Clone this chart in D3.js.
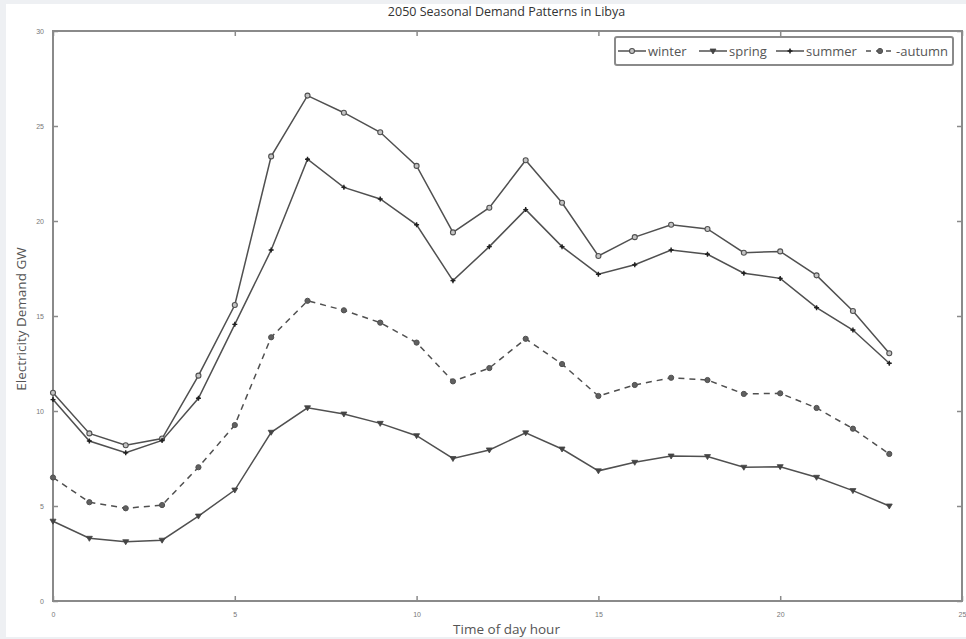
<!DOCTYPE html>
<html>
<head>
<meta charset="utf-8">
<script src="https://cdn.jsdelivr.net/npm/d3@7"></script>
<style>
  body { margin: 0; background: #eef0f3; }
  svg { display: block; font-family: "Open Sans", "DejaVu Sans", sans-serif; }
</style>
</head>
<body>
<svg id="chart"></svg>
<script>
// hours of the day
const hours = d3.range(0, 24);

// demand per season, GW
const winter = [10.96, 8.82, 8.2, 8.55, 11.86, 15.58, 23.4, 26.6, 25.7, 24.67, 22.9, 19.4,
                20.7, 23.2, 20.96, 18.16, 19.15, 19.8, 19.58, 18.33, 18.4, 17.14, 15.26, 13.04];
const spring = [4.2, 3.3, 3.12, 3.2, 4.47, 5.84, 8.88, 10.17, 9.84, 9.35, 8.7, 7.5,
                7.95, 8.85, 8.0, 6.85, 7.3, 7.63, 7.6, 7.04, 7.07, 6.51, 5.81, 5.0];
const summer = [10.6, 8.42, 7.8, 8.45, 10.67, 14.56, 18.47, 23.25, 21.77, 21.16, 19.8, 16.86,
                18.65, 20.6, 18.65, 17.2, 17.7, 18.47, 18.25, 17.25, 16.98, 15.44, 14.26, 12.51];
const autumn = [6.5, 5.2, 4.88, 5.05, 7.04, 9.26, 13.88, 15.8, 15.3, 14.65, 13.6, 11.56,
                12.26, 13.8, 12.47, 10.79, 11.37, 11.75, 11.63, 10.9, 10.93, 10.16, 9.07, 7.74];

const xTicks = [0, 5, 10, 15, 20, 25];
const yTicks = [0, 5, 10, 15, 20, 25, 30];

const series = [
  {name: 'winter', values: winter, marker: 'circle', dash: null},
  {name: 'spring', values: spring, marker: 'triangle', dash: null},
  {name: 'summer', values: summer, marker: 'plus', dash: null},
  {name: 'autumn', values: autumn, marker: 'dot', dash: '6,5'}
];

const W = 966, H = 639;
const margin = {top: 31, right: 4, bottom: 38, left: 53};
const width = W - margin.left - margin.right,
      height = H - margin.top - margin.bottom;

const ink = '#505050';
const axisCol = '#8a8a8a';

const svg = d3.select('#chart').attr('width', W).attr('height', H);

// white panel inside the grey frame
svg.append('rect')
  .attr('x', 6).attr('y', 4)
  .attr('width', W - 6).attr('height', 633)
  .attr('fill', '#ffffff');

const g = svg.append('g')
  .attr('transform', `translate(${margin.left}, ${margin.top})`);

const x = d3.scaleLinear().domain([0, 25]).range([0, width]);
const y = d3.scaleLinear().domain([0, 30]).range([height, 0]);

// axes, ticks inside, mirrored on top/right
const tickLen = 5;
g.append('g')
  .attr('transform', `translate(0, ${height})`)
  .call(d3.axisBottom(x).tickValues(xTicks).tickSize(-tickLen).tickPadding(tickLen + 6))
  .call(a => a.select('.domain').remove());
g.append('g')
  .call(d3.axisLeft(y).tickValues(yTicks).tickSize(-tickLen).tickPadding(tickLen + 4))
  .call(a => a.select('.domain').remove());
g.append('g')
  .call(d3.axisTop(x).tickValues(xTicks).tickSize(-tickLen).tickFormat(''))
  .call(a => a.select('.domain').remove());
g.append('g')
  .attr('transform', `translate(${width}, 0)`)
  .call(d3.axisRight(y).tickValues(yTicks).tickSize(-tickLen).tickFormat(''))
  .call(a => a.select('.domain').remove());

g.selectAll('.tick line').attr('stroke', axisCol).attr('stroke-width', 1.5);
g.selectAll('.tick text').attr('fill', '#777').attr('font-size', 7);

g.append('rect')
  .attr('width', width).attr('height', height)
  .attr('fill', 'none')
  .attr('stroke', axisCol)
  .attr('stroke-width', 2);

const line = d3.line()
  .x((d, i) => x(hours[i]))
  .y(d => y(d));

function drawMarker(sel, type, px, py) {
  if (type === 'circle') {
    sel.append('circle').attr('cx', px).attr('cy', py).attr('r', 2.5)
      .attr('fill', '#c4c4c4').attr('stroke', ink).attr('stroke-width', 1.1);
  } else if (type === 'triangle') {
    sel.append('path')
      .attr('d', `M${px - 3},${py - 2}L${px + 3},${py - 2}L${px},${py + 3}Z`)
      .attr('fill', '#444').attr('stroke', '#444').attr('stroke-width', 0.8);
  } else if (type === 'plus') {
    sel.append('path')
      .attr('d', `M${px - 2.5},${py}L${px + 2.5},${py}M${px},${py - 2.5}L${px},${py + 2.5}`)
      .attr('stroke', '#222').attr('stroke-width', 1.4);
    sel.append('circle').attr('cx', px).attr('cy', py).attr('r', 1.4).attr('fill', '#222');
  } else {
    sel.append('circle').attr('cx', px).attr('cy', py).attr('r', 2.6)
      .attr('fill', '#606060').attr('stroke', ink).attr('stroke-width', 1);
  }
}

series.forEach(s => {
  g.append('path')
    .datum(s.values)
    .attr('d', line)
    .attr('fill', 'none')
    .attr('stroke', ink)
    .attr('stroke-width', 1.5)
    .attr('stroke-dasharray', s.dash);
  const mg = g.append('g');
  s.values.forEach((v, i) => drawMarker(mg, s.marker, x(hours[i]), y(v)));
});

// title and labels
svg.append('text')
  .attr('x', margin.left + width / 2 - 1).attr('y', 16)
  .attr('text-anchor', 'middle')
  .attr('font-size', 12.5).attr('fill', '#333')
  .text('2050 Seasonal Demand Patterns in Libya');

svg.append('text')
  .attr('x', margin.left + width / 2 - 1).attr('y', 634)
  .attr('text-anchor', 'middle')
  .attr('font-size', 13.5).attr('fill', '#555')
  .text('Time of day hour');

svg.append('text')
  .attr('transform', `translate(26, ${margin.top + height / 2 + 3}) rotate(-90)`)
  .attr('text-anchor', 'middle')
  .attr('font-size', 13.5).attr('fill', '#555')
  .text('Electricity Demand GW');

// legend
const legend = svg.append('g');
legend.append('rect')
  .attr('x', 615).attr('y', 37).attr('width', 338).attr('height', 28)
  .attr('rx', 2)
  .attr('fill', '#fff').attr('stroke', axisCol).attr('stroke-width', 2);

const legendX = [618, 699, 776, 866];
series.forEach((s, i) => {
  const lx = legendX[i], ly = 51;
  legend.append('line')
    .attr('x1', lx).attr('x2', lx + 28).attr('y1', ly).attr('y2', ly)
    .attr('stroke', ink).attr('stroke-width', 1.5)
    .attr('stroke-dasharray', s.dash ? '5,5' : null);
  drawMarker(legend, s.marker, lx + 14, ly);
  legend.append('text')
    .attr('x', lx + 30).attr('y', ly + 4.5)
    .attr('font-size', 13).attr('fill', '#555')
    .text(s.dash ? '-' + s.name : s.name);
});
</script>
</body>
</html>
